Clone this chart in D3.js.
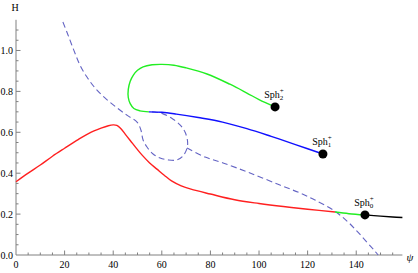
<!DOCTYPE html>
<html lang="en">
<head>
<meta charset="UTF-8">
<title>H vs psi</title>
<script src="https://cdn.jsdelivr.net/npm/d3@7/dist/d3.min.js"></script>
<style>
	body { margin: 0; background: #fff; }
</style>
</head>
<body>
<div id="chart"></div>
<script>
// curves as [psi, H]
let redCurve = [[0, 0.358], [5, 0.40], [10, 0.44], [15, 0.483], [20, 0.522], [25, 0.56], [30, 0.595],
	[35, 0.62], [38, 0.632], [40, 0.636], [41.5, 0.634], [43, 0.62], [45, 0.59], [47, 0.56], [50, 0.515],
	[52, 0.487], [55, 0.45], [58, 0.42], [61, 0.39], [64, 0.362], [68, 0.338], [72, 0.322], [80, 0.298],
	[90, 0.27], [100, 0.252], [110, 0.237], [120, 0.224], [131.3, 0.21]];
let greenLow = [[131.3, 0.21], [137, 0.202], [143.6, 0.196]];
let blackTail = [[143.6, 0.196], [150, 0.19], [155, 0.186], [159, 0.183]];
let greenLoop = [[54.7, 0.70], [51, 0.705], [48.5, 0.716], [47, 0.74], [46.2, 0.77], [46.2, 0.81],
	[47, 0.85], [48.3, 0.88], [50, 0.903], [52.3, 0.92], [56, 0.93], [60, 0.932], [65, 0.928], [70, 0.915],
	[78.6, 0.885], [88, 0.835], [95, 0.792], [100, 0.76], [106.6, 0.724]];
let blueCurve = [[54.7, 0.70], [60, 0.698], [66, 0.689], [75, 0.672], [85, 0.65], [95, 0.618],
	[105, 0.58], [115, 0.54], [126.3, 0.494]];
let dashedLoop = [[19.3, 1.139], [21.4, 1.076], [23.9, 0.998], [26.3, 0.929], [29.2, 0.87], [32.5, 0.817],
	[36.6, 0.768], [41.6, 0.719], [46.1, 0.68], [49.8, 0.65], [51.4, 0.611], [52.3, 0.562], [53.9, 0.528],
	[56.4, 0.494], [59.3, 0.474], [62.6, 0.465], [66.3, 0.465], [68.7, 0.484], [70.4, 0.523], [70.6, 0.555],
	[69.6, 0.6], [67.6, 0.635], [64.5, 0.665], [60.5, 0.69], [57, 0.699], [54.7, 0.70]];
let dashedTail = [[70.4, 0.523], [77.8, 0.479], [85.2, 0.45], [96.3, 0.401], [108.6, 0.342], [116.9, 0.303],
	[123, 0.269], [130.5, 0.22], [136.2, 0.166], [140.3, 0.117], [144, 0.068], [147.3, 0.024], [149, 0]];

let sphPoints = [[106.6, 0.724], [126.3, 0.494], [143.6, 0.196]];
let sphIndex = ['2', '1', '0'];

let xTicks = [0, 20, 40, 60, 80, 100, 120, 140];
let yTicks = [0.0, 0.2, 0.4, 0.6, 0.8, 1.0];

let width = 418,
	height = 273;
let font = '"Liberation Serif", "Times New Roman", "DejaVu Serif", serif';

let x = d3.scaleLinear().domain([0, 159]).range([16, 402.4]);
let y = d3.scaleLinear().domain([0, 1.15]).range([255, 19.8]);

let svg = d3.select('#chart')
	.append('svg')
	.attr('width', width)
	.attr('height', height)
	.attr('font-family', font);

let axisColor = '#808080';

// axes with inward ticks
let gx = svg.append('g');
gx.append('line')
	.attr('x1', x(0)).attr('x2', x(159))
	.attr('y1', y(0)).attr('y2', y(0))
	.attr('stroke', axisColor);
gx.selectAll('.tk').data(d3.range(5, 159, 5)).enter().append('line')
	.attr('x1', d => x(d)).attr('x2', d => x(d))
	.attr('y1', y(0)).attr('y2', d => y(0) - (d % 20 === 0 ? 4.5 : 2.5))
	.attr('stroke', axisColor);
gx.selectAll('text').data(xTicks).enter().append('text')
	.attr('x', d => x(d)).attr('y', 268)
	.attr('text-anchor', 'middle')
	.attr('font-size', '10px')
	.text(d => d);

let gy = svg.append('g');
gy.append('line')
	.attr('x1', x(0)).attr('x2', x(0))
	.attr('y1', y(0)).attr('y2', y(1.15))
	.attr('stroke', axisColor);
gy.selectAll('.tk').data(d3.range(1, 23).map(i => i * 0.05)).enter().append('line')
	.attr('y1', d => y(d)).attr('y2', d => y(d))
	.attr('x1', x(0)).attr('x2', (d, i) => x(0) + ((i + 1) % 4 === 0 ? 4.5 : 2.5))
	.attr('stroke', axisColor);
gy.selectAll('text').data(yTicks).enter().append('text')
	.attr('x', 13).attr('y', d => y(d) + 3.5)
	.attr('text-anchor', 'end')
	.attr('font-size', '10px')
	.text(d => d.toFixed(1));

svg.append('text').attr('x', 15).attr('y', 11)
	.attr('text-anchor', 'middle').attr('font-size', '10px').text('H');
svg.append('text').attr('x', 410).attr('y', 261)
	.attr('text-anchor', 'middle').attr('font-size', '11px').attr('font-style', 'italic').text('ψ');

// curves
let line = d3.line()
	.x(d => x(d[0]))
	.y(d => y(d[1]))
	.curve(d3.curveCatmullRom.alpha(0.5));

function draw(data, color, dash) {
	svg.append('path')
		.datum(data)
		.attr('d', line)
		.attr('fill', 'none')
		.attr('stroke', color)
		.attr('stroke-width', dash ? 1.1 : 1.4)
		.attr('stroke-dasharray', dash ? '6,3.5' : null);
}

draw(dashedLoop, '#6464c4', true);
draw(dashedTail, '#6464c4', true);
draw(redCurve, '#ff2020', false);
draw(greenLow, '#22ee22', false);
draw(blackTail, '#000', false);
draw(greenLoop, '#22ee22', false);
draw(blueCurve, '#1010ff', false);

// sphaleron points
svg.selectAll('circle').data(sphPoints).enter().append('circle')
	.attr('cx', d => x(d[0])).attr('cy', d => y(d[1]))
	.attr('r', 4.5).attr('fill', '#000');

let lbl = svg.selectAll('.lbl').data(sphPoints).enter().append('text')
	.attr('x', d => x(d[0]) - 1).attr('y', d => y(d[1]) - 9)
	.attr('text-anchor', 'middle')
	.attr('font-size', '10px');
lbl.append('tspan').text('Sph');
lbl.append('tspan').attr('font-size', '7px').attr('dy', 2.5).text((d, i) => sphIndex[i]);
lbl.append('tspan').attr('font-size', '7px').attr('dx', -3.5).attr('dy', -7).text('+');
</script>
</body>
</html>
